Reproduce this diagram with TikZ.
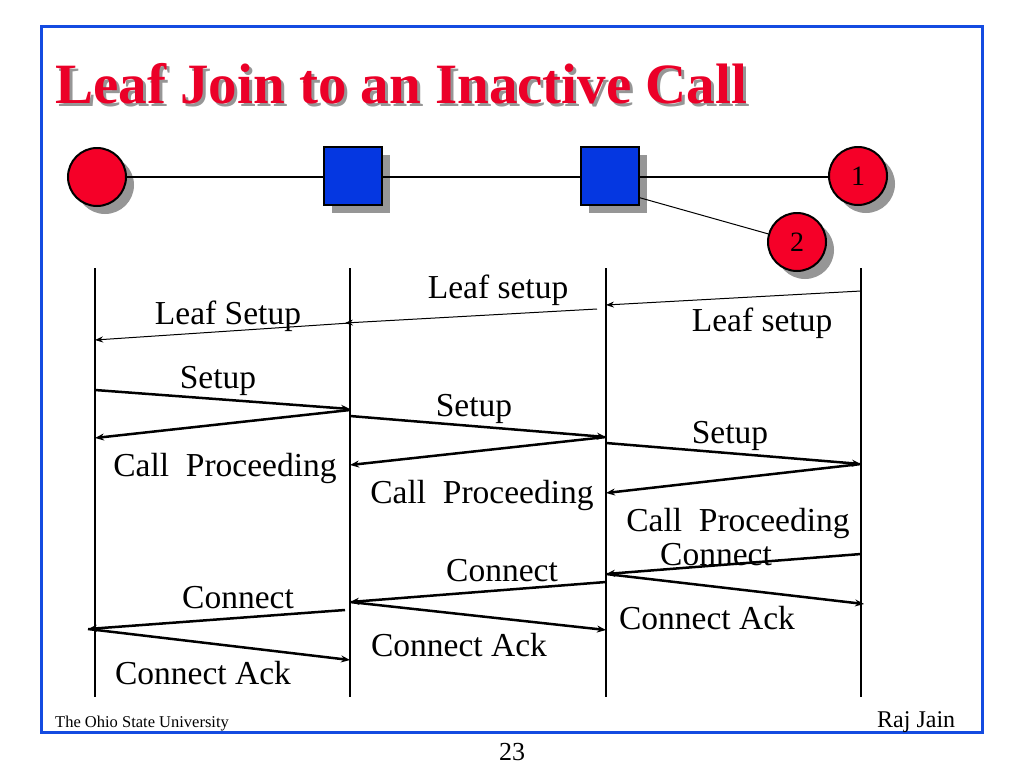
\documentclass[tikz,border=0pt]{standalone}
\usepackage{fontspec}
\setmainfont{Liberation Serif}
\usetikzlibrary{shadows,arrows.meta}
\definecolor{frameblue}{RGB}{20,75,225}
\definecolor{tred}{RGB}{235,0,40}
\definecolor{nred}{RGB}{245,0,40}
\definecolor{nblue}{RGB}{5,55,225}
\definecolor{shadowgray}{RGB}{150,150,150}
\begin{document}
\begin{tikzpicture}[x=1pt,y=-1pt,
  lbl/.style={font=\fontsize{33.5}{38}\selectfont, inner sep=0pt, anchor=base},
  host/.style={circle, draw=black, line width=2pt, fill=nred, minimum size=58pt, inner sep=0pt,
    font=\fontsize{28}{32}\selectfont,
    drop shadow={shadow xshift=8pt, shadow yshift=-8pt, fill=shadowgray, opacity=1}},
  sw/.style={rectangle, draw=black, line width=2pt, fill=nblue, minimum size=58pt, inner sep=0pt,
    drop shadow={shadow xshift=8pt, shadow yshift=-8pt, fill=shadowgray, opacity=1}},
  life/.style={line width=2pt},
  msg/.style={line width=2.5pt, -{Stealth[length=9pt,width=7pt]}},
  thinmsg/.style={line width=1pt, -{Stealth[length=8pt,width=6pt]}}]
\useasboundingbox (0,0) rectangle (1024,768);
\fill[white] (0,0) rectangle (1024,768);
\draw[frameblue, line width=3pt] (41,27) rectangle (982,732);
% title
\node[anchor=base west, inner sep=0pt, text=shadowgray, font=\fontsize{57}{64}\selectfont\bfseries] at (58,106) {Leaf Join to an Inactive Call};
\node[anchor=base west, inner sep=0pt, text=tred, font=\fontsize{57}{64}\selectfont\bfseries] (title) at (55,103) {Leaf Join to an Inactive Call};
% topology
\node[host] (h1) at (97,177) {};
\node[sw] (s1) at (353,176) {};
\node[sw] (s2) at (610,176) {};
\node[host] (h2) at (858,176) {1};
\node[host] (h3) at (797,242) {2};
\draw[line width=2pt] (h1) -- (s1.west |- h1);
\draw[line width=2pt] (s1.east |- h1) -- (s2.west |- h1);
\draw[line width=2pt] (s2.east |- h1) -- (h2.west |- h1);
\draw[line width=1pt] (s2.-36) -- (h3);
% lifelines
\coordinate (l1t) at (95,268); \coordinate (l1b) at (95,697);
\coordinate (l2t) at (350,268); \coordinate (l2b) at (350,697);
\coordinate (l3t) at (606,268); \coordinate (l3b) at (606,697);
\coordinate (l4t) at (861,268); \coordinate (l4b) at (861,697);
\draw[life] (l1t) -- (l1b);
\draw[life] (l2t) -- (l2b);
\draw[life] (l3t) -- (l3b);
\draw[life] (l4t) -- (l4b);
% leaf setup
\draw[thinmsg] (l4t |- 0,291) -- (l3t |- 0,305);
\draw[thinmsg] ([xshift=-9pt]l3t |- 0,309) -- ([xshift=-5pt]l2t |- 0,323);
\draw[thinmsg] (l2t |- 0,323) -- (l1t |- 0,340);
\node[lbl] at (498,298) {Leaf setup};
\node[lbl] at (228,324) {Leaf Setup};
\node[lbl] at (762,331) {Leaf setup};
% setup / call proceeding
\draw[msg] (l1t |- 0,390) -- (l2t |- 0,409);
\draw[msg] (l2t |- 0,410) -- (l1t |- 0,438);
\draw[msg] (l2t |- 0,416) -- (l3t |- 0,437);
\draw[msg] (l3t |- 0,437) -- (l2t |- 0,465);
\draw[msg] (l3t |- 0,443) -- (l4t |- 0,464);
\draw[msg] (l4t |- 0,464) -- (l3t |- 0,493);
\node[lbl] at (218,388) {Setup};
\node[lbl] at (225,476) {Call\ \ Proceeding};
\node[lbl] at (474,416) {Setup};
\node[lbl] at (482,503) {Call\ \ Proceeding};
\node[lbl] at (730,443) {Setup};
\node[lbl] at (738,531) {Call\ \ Proceeding};
% connect / connect ack
\draw[msg] (l4t |- 0,554) -- (l3t |- 0,574);
\draw[msg] (l3t |- 0,582) -- (l2t |- 0,602);
\draw[msg] (l3t |- 0,574) -- ([xshift=3pt]l4t |- 0,604);
\draw[msg] ([xshift=-5pt]l2t |- 0,610) -- ([xshift=-7pt]l1t |- 0,629);
\draw[msg] (l2t |- 0,602) -- (l3t |- 0,630);
\draw[msg] ([xshift=-7pt]l1t |- 0,629) -- (l2t |- 0,660);
\node[lbl] at (716,565) {Connect};
\node[lbl] at (502,581) {Connect};
\node[lbl] at (707,629) {Connect Ack};
\node[lbl] at (238,608) {Connect};
\node[lbl] at (459,656) {Connect Ack};
\node[lbl] at (203,684) {Connect Ack};
% footer
\node[anchor=base west, inner sep=0pt, font=\fontsize{16.5}{20}\selectfont] (osu) at (55,727) {The Ohio State University};
\node[anchor=base west, inner sep=0pt, font=\fontsize{24}{28}\selectfont] (raj) at (877,727) {Raj Jain};
\node[anchor=base, inner sep=0pt, font=\fontsize{26}{30}\selectfont] (pg) at (512,760) {23};
\end{tikzpicture}
\end{document}
